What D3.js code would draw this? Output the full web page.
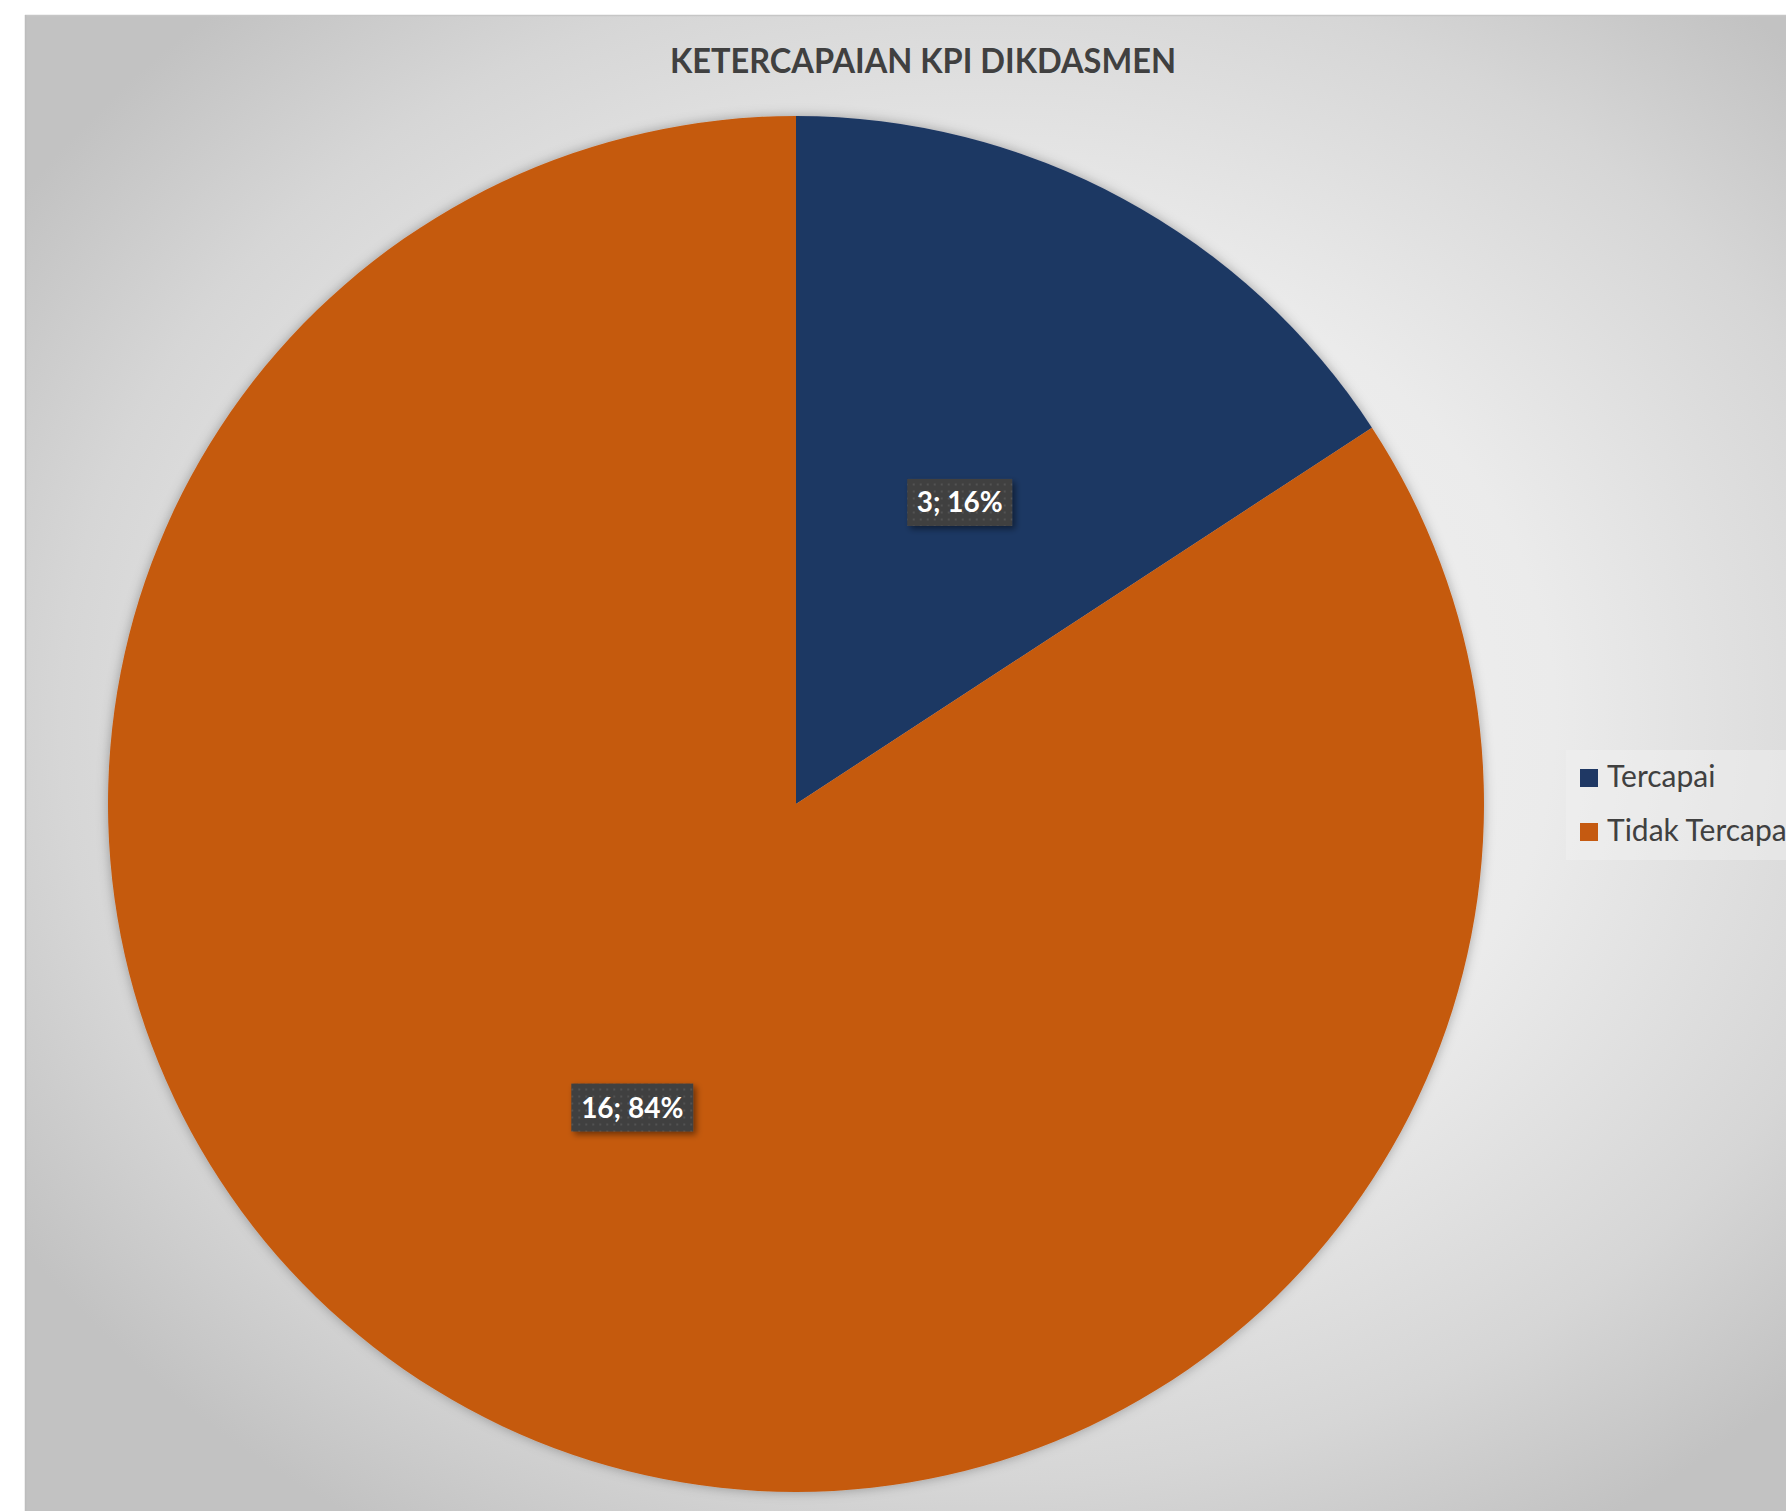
<!DOCTYPE html>
<html><head><meta charset="utf-8">
<script src="https://cdn.jsdelivr.net/npm/d3@7/dist/d3.min.js"></script>
<style>html,body{margin:0;padding:0;background:#fff;overflow:hidden}svg{display:block}</style>
</head><body>
<script>
const categories = ["Tercapai", "Tidak Tercapai"];
const values = [3, 16];
const percentLabels = ["16%", "84%"];
const colors = ["#1F3864", "#C55A11"];
const title = "KETERCAPAIAN KPI DIKDASMEN";

const W = 1786, H = 1511;
const svg = d3.select("body").append("svg").attr("width", W).attr("height", H);
const defs = svg.append("defs");

const rg = defs.append("radialGradient").attr("id","bg").attr("gradientUnits","userSpaceOnUse")
  .attr("cx",0).attr("cy",0).attr("r",1)
  .attr("gradientTransform","translate(980,720) scale(1150,950)");
rg.append("stop").attr("offset","0").attr("stop-color","#f5f5f5");
rg.append("stop").attr("offset","0.5").attr("stop-color","#ebebeb");
rg.append("stop").attr("offset","0.8").attr("stop-color","#d6d6d6");
rg.append("stop").attr("offset","1").attr("stop-color","#c2c2c2");

const pat = defs.append("pattern").attr("id","dots").attr("patternUnits","userSpaceOnUse")
  .attr("width",7).attr("height",7);
pat.append("rect").attr("width",7).attr("height",7).attr("fill","#404040");
pat.append("rect").attr("x",2).attr("y",2).attr("width",2).attr("height",2).attr("fill","#535353");

const sh = defs.append("filter").attr("id","pieShadow").attr("x","-10%").attr("y","-10%").attr("width","120%").attr("height","120%");
sh.append("feDropShadow").attr("dx",0).attr("dy",0).attr("stdDeviation",6).attr("flood-color","#000").attr("flood-opacity",0.3);
const ls = defs.append("filter").attr("id","lblShadow").attr("x","-20%").attr("y","-30%").attr("width","150%").attr("height","180%");
ls.append("feDropShadow").attr("dx",3).attr("dy",3).attr("stdDeviation",3).attr("flood-color","#000").attr("flood-opacity",0.45);

// chart area
svg.append("rect").attr("x",25).attr("y",15).attr("width",W-25).attr("height",H-15).attr("fill","url(#bg)");
svg.append("line").attr("x1",25).attr("y1",15.5).attr("x2",W).attr("y2",15.5).attr("stroke","#c6c6c6").attr("stroke-width",1.5);
svg.append("line").attr("x1",25.5).attr("y1",15).attr("x2",25.5).attr("y2",H).attr("stroke","#bdbdbd").attr("stroke-width",1.5);

// title
svg.append("text").attr("x",923).attr("y",73).attr("text-anchor","middle")
  .attr("font-family","Lato, 'Open Sans', sans-serif").attr("font-weight","bold")
  .attr("font-size",35).attr("fill","#404040")
  .attr("textLength",506).attr("lengthAdjust","spacingAndGlyphs").text(title);

// pie
const cx = 796, cy = 804, R = 688;
const pie = d3.pie().sort(null).value(d => d)(values);
const arc = d3.arc().innerRadius(0).outerRadius(R);
const g = svg.append("g").attr("transform",`translate(${cx},${cy})`);
g.append("g").attr("filter","url(#pieShadow)").selectAll("path").data(pie).join("path")
  .attr("d",arc).attr("fill",(d,i)=>colors[i]);

// data labels
const labelArc = d3.arc().innerRadius(R*0.5).outerRadius(R*0.5);
const lbl = g.selectAll("g.lbl").data(pie).join("g").attr("class","lbl")
  .attr("transform",(d,i)=>{
    const c = labelArc.centroid(d);
    return `translate(${c[0]},${c[1]+1})`;
  });
const boxW = [105,122], boxH = [47,48];
lbl.append("rect")
  .attr("x",(d,i)=>-boxW[i]/2).attr("y",(d,i)=>-boxH[i]/2)
  .attr("width",(d,i)=>boxW[i]).attr("height",(d,i)=>boxH[i])
  .attr("fill","url(#dots)").attr("filter","url(#lblShadow)");
lbl.append("text").attr("text-anchor","middle").attr("y",10)
  .attr("font-family","Lato, 'Open Sans', sans-serif").attr("font-weight","bold")
  .attr("font-size",28).attr("fill","#ffffff")
  .text((d,i)=>`${values[i]}; ${percentLabels[i]}`);

// legend
const leg = svg.append("g");
leg.append("rect").attr("x",1566).attr("y",750).attr("width",W-1566).attr("height",110).attr("fill","#f1f1f1").attr("opacity",0.45);
const li = leg.selectAll("g.li").data(categories).join("g").attr("class","li")
  .attr("transform",(d,i)=>`translate(1580,${769+i*54})`);
li.append("rect").attr("width",18).attr("height",18).attr("fill",(d,i)=>colors[i]);
li.append("text").attr("x",27).attr("y",18)
  .attr("font-family","Lato, 'Open Sans', sans-serif").attr("font-size",30).attr("fill","#404040").text(d=>d);
</script>
</body></html>
